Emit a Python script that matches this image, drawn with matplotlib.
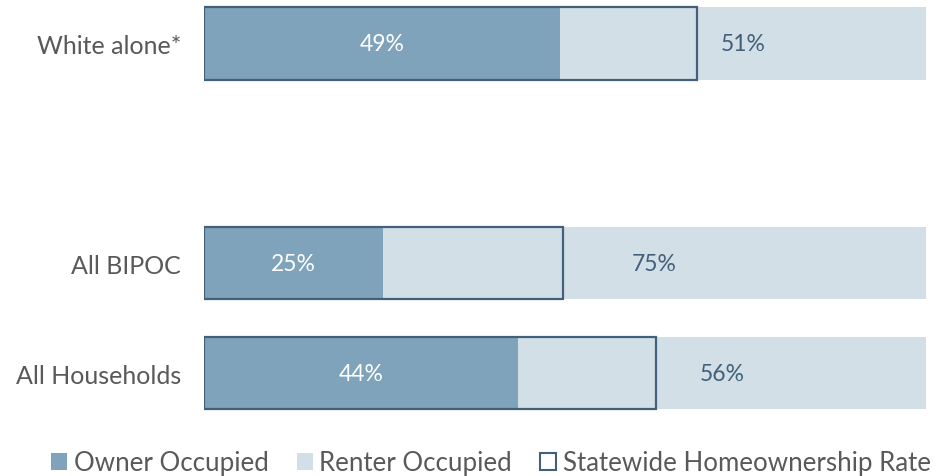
import matplotlib
matplotlib.use("Agg")
import matplotlib.pyplot as plt
from matplotlib.patches import Patch

categories = ["White alone*", "", "All BIPOC", "All Households"]
owner = [49.3, None, 24.8, 43.5]
renter = [50.7, None, 75.2, 56.5]
owner_labels = ["49%", "", "25%", "44%"]
renter_labels = ["51%", "", "75%", "56%"]
statewide = [68.3, None, 49.7, 62.6]

c_owner = "#7FA3BB"
c_renter = "#D3DFE7"
c_edge = "#42607A"
c_text = "#595959"

plt.rcParams['font.family'] = ['Lato', 'DejaVu Sans']

fig = plt.figure(figsize=(9.44, 4.77), dpi=100)
ax = fig.add_axes([204/944, (477-418)/477, (926-204)/944, 417.5/477])

h = 0.66
for i, cat in enumerate(categories):
    if owner[i] is None:
        continue
    ax.barh(i, owner[i], height=h, color=c_owner, linewidth=0)
    ax.barh(i, renter[i], left=owner[i], height=h, color=c_renter, linewidth=0)
    ax.barh(i, statewide[i], height=h, facecolor="none", edgecolor=c_edge, linewidth=1.6)
    ax.text(owner[i]/2, i, owner_labels[i], ha="center", va="center", color="white", fontsize=16.5)
    ax.text(owner[i] + renter[i]/2, i, renter_labels[i], ha="center", va="center", color=c_edge, fontsize=16.5)

ax.set_xlim(0, 100)
ax.set_ylim(3.4, -0.4)
ax.set_yticks(range(len(categories)))
ax.set_yticklabels(categories, fontsize=18, color=c_text)
ax.tick_params(axis="y", length=0, pad=16.5)
ax.set_xticks([])
for s in ax.spines.values():
    s.set_visible(False)

handles = [Patch(facecolor=c_owner, edgecolor="none"),
           Patch(facecolor=c_renter, edgecolor="none"),
           Patch(facecolor="white", edgecolor=c_edge, linewidth=1.5)]
fig.legend(handles, ["Owner Occupied", "Renter Occupied", "Statewide Homeownership Rate"],
           loc="center", bbox_to_anchor=(491/944, 1 - 464/477), ncol=3, frameon=False,
           fontsize=18.6, handlelength=0.62, handleheight=0.62, handletextpad=0.25,
           columnspacing=1.1, labelcolor=c_text)

fig.savefig("out.png", dpi=100)
